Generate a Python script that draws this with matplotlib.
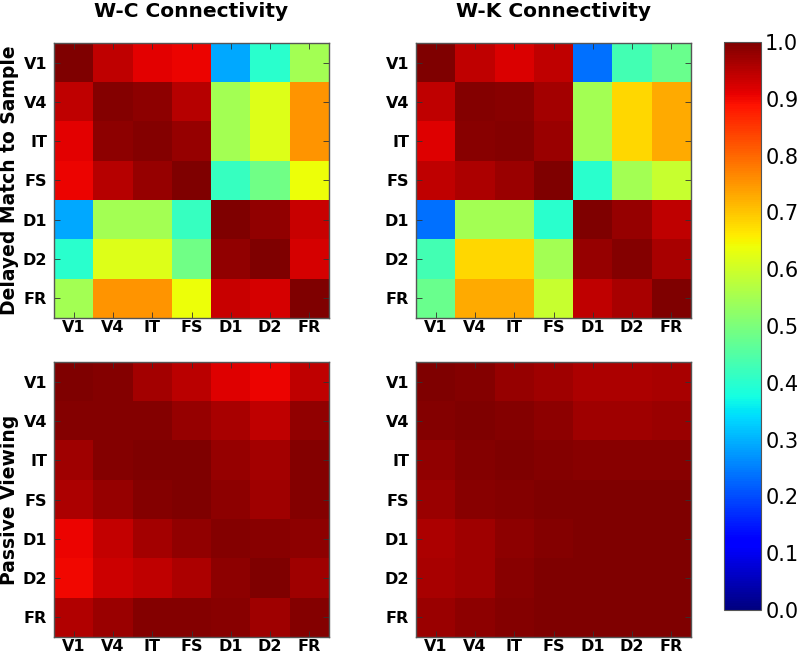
import matplotlib
matplotlib.use("Agg")
import matplotlib.pyplot as plt
import numpy as np

regions = ["V1", "V4", "IT", "FS", "D1", "D2", "FR"]
col_titles = ["W-C Connectivity", "W-K Connectivity"]
row_titles = ["Delayed Match to Sample", "Passive Viewing"]
cbar_ticks = [0.0, 0.1, 0.2, 0.3, 0.4, 0.5, 0.6, 0.7, 0.8, 0.9, 1.0]

# delayed match to sample, W-C
wc_dms = [
    [1.000, 0.945, 0.912, 0.906, 0.290, 0.400, 0.550],
    [0.945, 0.993, 0.988, 0.952, 0.550, 0.620, 0.750],
    [0.912, 0.988, 0.996, 0.978, 0.550, 0.620, 0.750],
    [0.906, 0.952, 0.978, 1.000, 0.415, 0.485, 0.640],
    [0.290, 0.550, 0.550, 0.415, 1.000, 0.982, 0.935],
    [0.400, 0.620, 0.620, 0.485, 0.982, 1.000, 0.922],
    [0.550, 0.750, 0.750, 0.640, 0.937, 0.922, 1.000],
]

# delayed match to sample, W-K
wk_dms = [
    [1.000, 0.944, 0.920, 0.944, 0.235, 0.430, 0.477],
    [0.944, 0.993, 0.990, 0.965, 0.550, 0.680, 0.730],
    [0.915, 0.990, 0.996, 0.976, 0.550, 0.680, 0.730],
    [0.944, 0.958, 0.976, 1.000, 0.400, 0.550, 0.590],
    [0.235, 0.550, 0.550, 0.400, 1.000, 0.978, 0.944],
    [0.430, 0.680, 0.680, 0.550, 0.978, 0.993, 0.962],
    [0.477, 0.730, 0.730, 0.590, 0.944, 0.962, 1.000],
]

# passive viewing, W-C
wc_pv = [
    [1.000, 0.996, 0.965, 0.948, 0.917, 0.906, 0.944],
    [0.993, 0.996, 0.993, 0.979, 0.962, 0.944, 0.983],
    [0.969, 0.993, 1.000, 1.000, 0.979, 0.965, 0.993],
    [0.958, 0.979, 0.996, 1.000, 0.986, 0.969, 0.993],
    [0.903, 0.941, 0.965, 0.983, 0.996, 0.990, 0.986],
    [0.900, 0.930, 0.944, 0.958, 0.986, 1.000, 0.969],
    [0.955, 0.976, 0.993, 0.996, 0.990, 0.969, 0.996],
]

# passive viewing, W-K
wk_pv = [
    [1.000, 0.996, 0.979, 0.972, 0.958, 0.958, 0.962],
    [0.996, 1.000, 0.993, 0.986, 0.972, 0.972, 0.975],
    [0.982, 0.996, 1.000, 0.996, 0.990, 0.990, 0.990],
    [0.975, 0.990, 0.996, 1.000, 0.998, 0.998, 0.998],
    [0.958, 0.969, 0.986, 0.996, 1.000, 1.000, 1.000],
    [0.962, 0.972, 0.990, 0.998, 1.000, 1.000, 1.000],
    [0.975, 0.986, 0.993, 0.998, 1.000, 1.000, 1.000],
]

W, H = 800, 653
fig = plt.figure(figsize=(W / 100, H / 100), dpi=100)
fig.patch.set_facecolor("white")


def px_axes(x0, y0, x1, y1):
    return fig.add_axes([x0 / W, 1 - y1 / H, (x1 - x0) / W, (y1 - y0) / H])


panels = [
    (wc_dms, (54, 43, 329, 318)),
    (wk_dms, (416, 43, 691, 318)),
    (wc_pv, (54, 362, 329, 637)),
    (wk_pv, (416, 362, 691, 637)),
]

im = None
for data, box in panels:
    ax = px_axes(*box)
    im = ax.imshow(np.array(data), cmap="jet", vmin=0, vmax=1,
                   interpolation="nearest", aspect="auto")
    ax.set_xticks(range(len(regions)))
    ax.set_yticks(range(len(regions)))
    ax.set_xticklabels(regions, fontsize=11.5, fontweight="bold")
    ax.set_yticklabels(regions, fontsize=11.5, fontweight="bold")
    ax.tick_params(direction="in", length=4, width=0.6, color="#333333",
                   top=True, right=True)
    ax.tick_params(axis="x", pad=1.5)
    ax.tick_params(axis="y", pad=5)
    for s in ax.spines.values():
        s.set_edgecolor("#555555")
        s.set_linewidth(1.0)

# column titles
for title, cx in zip(col_titles, [(54 + 329) / 2, (416 + 691) / 2]):
    fig.text(cx / W, 1 - 17 / H, title, fontsize=14.5, fontweight="bold",
             ha="center", va="baseline")

# row titles
for title, cy in zip(row_titles, [(43 + 318) / 2, (362 + 637) / 2]):
    fig.text(10 / W, 1 - cy / H, title, fontsize=13.5, fontweight="bold",
             rotation=90, ha="center", va="center")

cax = px_axes(724, 42, 761, 610)
cb = fig.colorbar(im, cax=cax, ticks=cbar_ticks)
cb.ax.set_yticklabels([f"{t:.1f}" for t in cbar_ticks], fontsize=15)
cb.ax.tick_params(length=0, pad=3)
cb.outline.set_edgecolor("#555555")

fig.savefig("out.png", dpi=100)
